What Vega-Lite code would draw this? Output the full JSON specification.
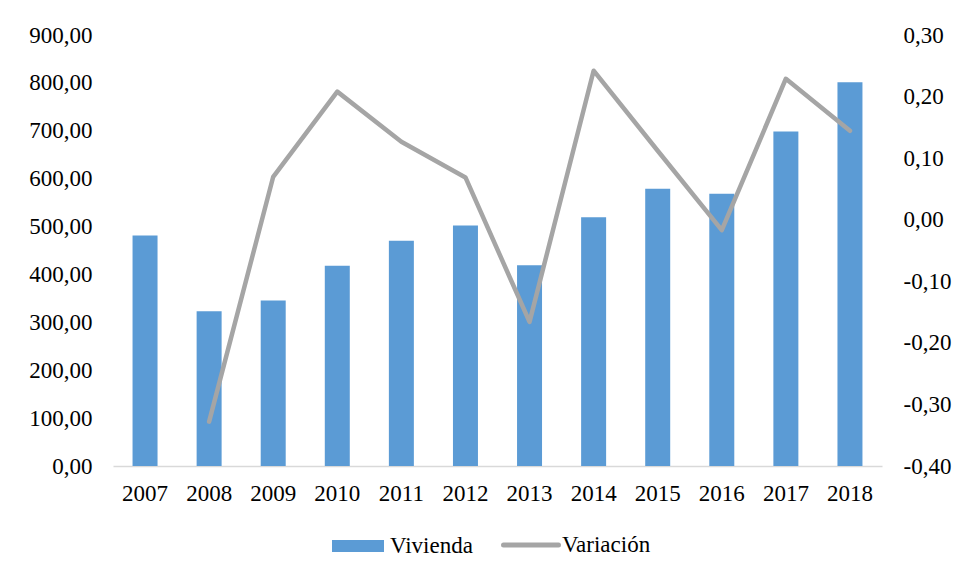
{
  "$schema": "https://vega.github.io/schema/vega-lite/v6.json",
  "width": 769,
  "height": 431,
  "autosize": {"type": "none"},
  "padding": {"left": 113, "top": 35, "right": 78, "bottom": 113},
  "background": "white",
  "data": {
    "values": [
      {"anio": "2007", "vivienda": 481.4, "variacion": null},
      {"anio": "2008", "vivienda": 323.2, "variacion": -0.328},
      {"anio": "2009", "vivienda": 345.6, "variacion": 0.0697},
      {"anio": "2010", "vivienda": 417.9, "variacion": 0.208},
      {"anio": "2011", "vivienda": 470.1, "variacion": 0.1266},
      {"anio": "2012", "vivienda": 502.3, "variacion": 0.0687},
      {"anio": "2013", "vivienda": 419.3, "variacion": -0.166},
      {"anio": "2014", "vivienda": 519.6, "variacion": 0.242},
      {"anio": "2015", "vivienda": 578.8, "variacion": 0.112},
      {"anio": "2016", "vivienda": 568.3, "variacion": -0.017},
      {"anio": "2017", "vivienda": 698.7, "variacion": 0.229},
      {"anio": "2018", "vivienda": 801.1, "variacion": 0.1445}
    ]
  },
  "encoding": {
    "x": {
      "field": "anio",
      "type": "ordinal",
      "scale": {"paddingInner": 0.61, "paddingOuter": 0.305},
      "axis": {
        "title": null,
        "labelAngle": 0,
        "ticks": false,
        "domainColor": "#D9D9D9",
        "domainWidth": 1.5,
        "labelPadding": 16
      }
    }
  },
  "layer": [
    {
      "mark": {"type": "bar", "color": "#5B9BD5"},
      "encoding": {
        "y": {
          "field": "vivienda",
          "type": "quantitative",
          "scale": {"domain": [0, 900], "nice": false},
          "axis": {
            "title": null,
            "orient": "left",
            "values": [0, 100, 200, 300, 400, 500, 600, 700, 800, 900],
            "format": ".2f",
            "grid": false,
            "ticks": false,
            "domain": false,
            "labelPadding": 21
          }
        },
        "fill": {
          "datum": "Vivienda",
          "scale": {"range": ["#5B9BD5"]},
          "legend": {
            "title": null,
            "orient": "none",
            "legendX": 219,
            "legendY": 485,
            "symbolType": "M-1,-0.23H1V0.23H-1Z",
            "symbolSize": 2704,
            "symbolStrokeWidth": 0,
            "labelOffset": 6
          }
        }
      }
    },
    {
      "mark": {"type": "line", "strokeWidth": 4.5, "strokeCap": "round", "strokeJoin": "round"},
      "encoding": {
        "y": {
          "field": "variacion",
          "type": "quantitative",
          "scale": {"domain": [-0.4, 0.3], "nice": false, "zero": false},
          "axis": {
            "title": null,
            "orient": "right",
            "values": [-0.4, -0.3, -0.2, -0.1, 0, 0.1, 0.2, 0.3],
            "format": ".2f",
            "grid": false,
            "ticks": false,
            "domain": false,
            "labelPadding": 21
          }
        },
        "stroke": {
          "datum": "Variación",
          "scale": {"range": ["#A5A5A5"]},
          "legend": {
            "title": null,
            "orient": "none",
            "legendX": 388,
            "legendY": 480,
            "symbolType": "stroke",
            "symbolSize": 3025,
            "symbolStrokeWidth": 5,
            "labelOffset": 1,
            "encode": {"symbols": {"update": {"strokeCap": {"value": "round"}}}}
          }
        }
      }
    }
  ],
  "resolve": {"scale": {"y": "independent", "fill": "independent", "stroke": "independent"}},
  "config": {
    "locale": {
      "number": {
        "decimal": ",",
        "thousands": ".",
        "grouping": [3],
        "currency": ["", " €"],
        "minus": "-"
      }
    },
    "font": "Times New Roman, Liberation Serif, DejaVu Serif, serif",
    "view": {"stroke": null},
    "axis": {
      "labelFont": "Times New Roman, Liberation Serif, DejaVu Serif, serif",
      "labelFontSize": 23,
      "labelColor": "#000000"
    },
    "legend": {
      "labelFont": "Times New Roman, Liberation Serif, DejaVu Serif, serif",
      "labelFontSize": 23,
      "labelColor": "#000000"
    }
  }
}
